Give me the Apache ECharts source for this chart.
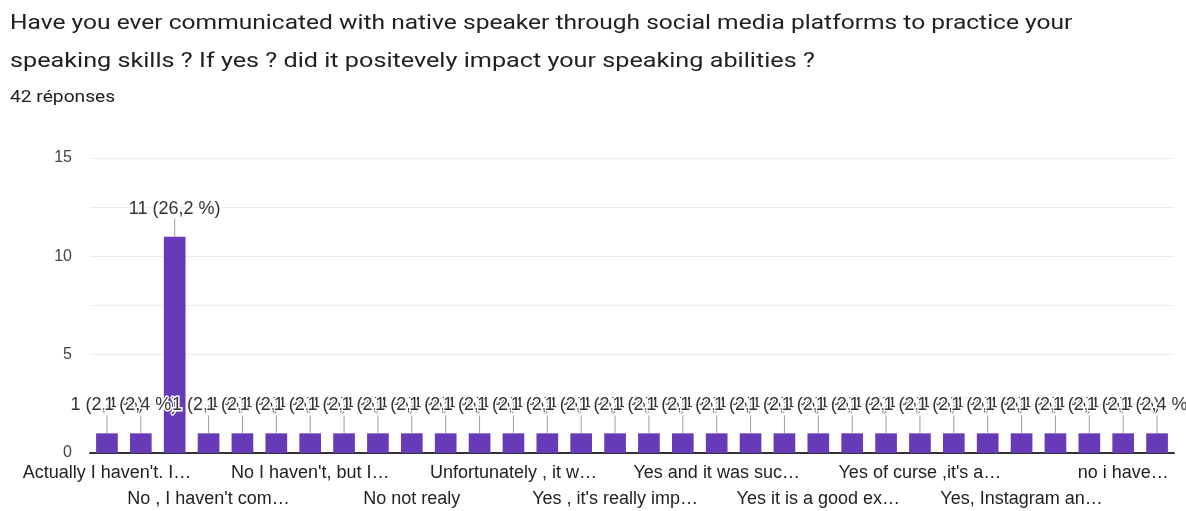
<!DOCTYPE html>
<html><head><meta charset="utf-8">
<script src="https://cdn.jsdelivr.net/npm/echarts@6/dist/echarts.min.js"></script>
<style>html,body{margin:0;padding:0;background:#fff}#c{width:1186px;height:511px}</style>
</head><body><div id="c"></div>
<script>
const categories = [
  "Actually I haven't. I…", "I have not…", "No", "No , I haven't com…",
  "No , i didn't…", "No I haven't", "No I haven't, but I…", "No i haven't…",
  "No never…", "No not realy", "Not yet…", "Sometimes…",
  "Unfortunately , it w…", "Yes", "Yes , I did…", "Yes , it's really imp…",
  "Yes I did…", "Yes a lot…", "Yes and it was suc…", "Yes definitely…",
  "Yes it helped me…", "Yes it is a good ex…", "Yes it was…", "Yes of course…",
  "Yes of curse ,it's a…", "Yes sure…", "Yes, I did…", "Yes, Instagram an…",
  "Yes, it helped…", "Yes, of course…", "no i have…", "yes…"
];
const values = [1,1,11,1,1,1,1,1,1,1,1,1,1,1,1,1,1,1,1,1,1,1,1,1,1,1,1,1,1,1,1,1];
const totalResponses = 42;
const yTicks = [0, 5, 10, 15];
const titleLines = [
  "Have you ever communicated with native speaker through social media platforms to practice your",
  "speaking skills ? If yes ? did it positevely impact your speaking abilities ?"
];
const subtitle = "42 réponses";

const pctLabel = v => v + ' (' + (v / totalResponses * 100).toFixed(1).replace('.', ',') + ' %)';

const labelStyle = {fontFamily: 'Liberation Sans', fontSize: 18, color: '#222', hideOverlap: false};

const chart = echarts.init(document.getElementById('c'));
chart.setOption({
  animation: false,
  graphic: [
    {type: 'text', x: 10, y: 24, scaleX: 1.17,
     style: {text: titleLines[0], font: '21px Roboto', fill: '#202124', verticalAlign: 'middle'}},
    {type: 'text', x: 10, y: 62, scaleX: 1.2,
     style: {text: titleLines[1], font: '21px Roboto', fill: '#202124', verticalAlign: 'middle'}},
    {type: 'text', x: 10, y: 98, scaleX: 1.2,
     style: {text: subtitle, font: '16px Roboto', fill: '#202124', verticalAlign: 'middle'}}
  ],
  grid: {left: 90, right: 12, top: 158, bottom: 58},
  xAxis: [
    {
      type: 'category', data: categories, position: 'bottom',
      axisLine: {lineStyle: {color: '#333', width: 2}},
      axisTick: {show: false},
      axisLabel: Object.assign({interval: idx => idx % 6 === 0, margin: 11}, labelStyle)
    },
    {
      type: 'category', data: categories, position: 'bottom', gridIndex: 0,
      axisLine: {show: false}, axisTick: {show: false}, splitLine: {show: false},
      axisLabel: Object.assign({interval: idx => idx % 6 === 3, margin: 37}, labelStyle)
    }
  ],
  yAxis: {
    type: 'value', min: 0, max: 15, interval: 2.5,
    axisLine: {show: false}, axisTick: {show: false},
    axisLabel: {
      fontFamily: 'Liberation Sans', fontSize: 16, color: '#444', margin: 18,
      formatter: v => yTicks.includes(v) ? String(v) : ''
    },
    splitLine: {lineStyle: {color: '#ececec', width: 1}}
  },
  series: [
    {type: 'bar', data: values, barWidth: '64%', itemStyle: {color: '#673ab7'}, z: 2},
    {
      type: 'custom', z: 5,
      data: values.map((v, i) => [i, v]),
      renderItem: (params, api) => {
        const i = api.value(0), v = api.value(1);
        const p = api.coord([i, v]);
        return {
          type: 'group', z2: i,
          children: [
            {type: 'line', shape: {x1: p[0], y1: p[1], x2: p[0], y2: p[1] - 18},
             style: {stroke: '#9e9e9e', lineWidth: 1}},
            {type: 'text', z2: i + 1,
             style: {text: pctLabel(v), x: p[0], y: p[1] - 28, align: 'center', verticalAlign: 'middle',
                     font: '18px "Liberation Sans"', fill: '#333', stroke: '#fff', lineWidth: 3}}
          ]
        };
      }
    }
  ]
});
</script></body></html>
